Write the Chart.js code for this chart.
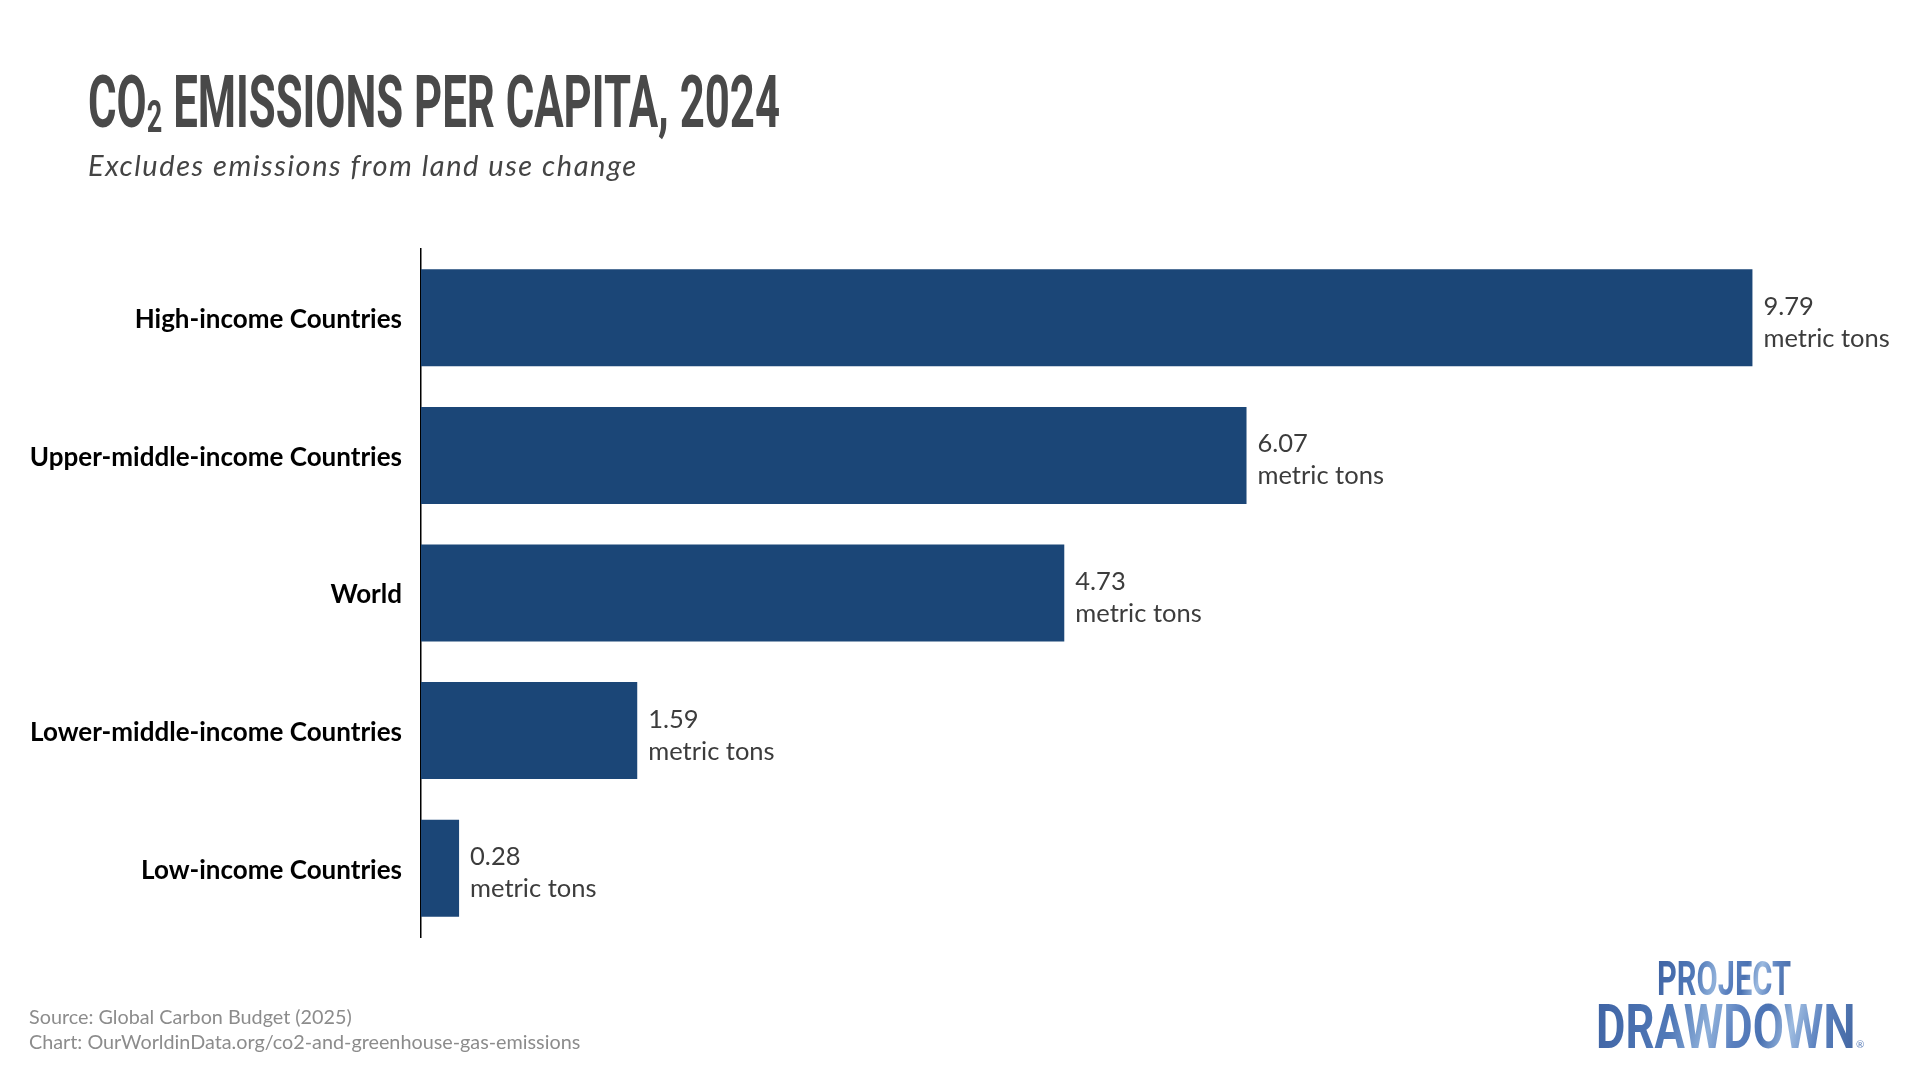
<!DOCTYPE html>
<html>
<head>
<meta charset="utf-8">
<script src="https://cdn.jsdelivr.net/npm/chart.js@4.4.1/dist/chart.umd.min.js"></script>
<style>
  html, body { margin: 0; padding: 0; background: #fff; }
  body { width: 1920px; height: 1080px; position: relative; overflow: hidden; }
  #chart { position: absolute; left: 0; top: 0; }
  .txt { position: absolute; white-space: nowrap; }
  #title {
    left: 88px; top: 66px;
    font-family: Roboto, sans-serif; font-weight: 700; font-size: 73px; line-height: 73px;
    color: #494949; transform-origin: left top;
  }
  #title sub { font-size: 0.62em; vertical-align: -0.12em; line-height: 0; }
  #subtitle {
    left: 88px; top: 150px;
    font-family: Lato, sans-serif; font-style: italic; font-size: 29px; line-height: 29px;
    letter-spacing: 1.55px; color: #444;
  }
  #source {
    left: 29px; top: 1004px;
    font-family: Lato, sans-serif; font-size: 19.8px; line-height: 25px; color: #8c8c8c;
  }
  .logo {
    font-family: Roboto, sans-serif; font-weight: 700; transform-origin: left top;
    background: linear-gradient(110deg, #3f63a3 0%, #5079b8 30%, #8fb0da 44%, #5a80bf 54%, #4a72b2 64%, #9dbbe0 74%, #5d83c0 84%, #40649f 100%);
    -webkit-background-clip: text; background-clip: text; color: transparent;
  }
  #logo1 { left: 1657px; top: 955px; font-size: 48px; line-height: 48px; }
  #logo2 { left: 1596px; top: 996px; font-size: 62px; line-height: 62px; }
  #reg { left: 1856px; top: 1038px; font-family: Lato, sans-serif; font-size: 10px; color: #5a7db8; }
</style>
</head>
<body>
<canvas id="chart" width="1920" height="1080"></canvas>
<div id="title" class="txt" data-w="692">CO<sub>2</sub> EMISSIONS PER CAPITA, 2024</div>
<div id="subtitle" class="txt">Excludes emissions from land use change</div>
<div id="source" class="txt">Source: Global Carbon Budget (2025)<br>Chart: OurWorldinData.org/co2-and-greenhouse-gas-emissions</div>
<div id="logo1" class="txt logo" data-w="134">PROJECT</div>
<div id="logo2" class="txt logo" data-w="259">DRAWDOWN</div>
<div id="reg" class="txt">®</div>
<script>
const categories = [
  "High-income Countries",
  "Upper-middle-income Countries",
  "World",
  "Lower-middle-income Countries",
  "Low-income Countries"
];
const emissions = [9.79, 6.07, 4.73, 1.59, 0.28];
const valueUnit = "metric tons";

// squeeze the condensed headings to their width in the picture
document.querySelectorAll("[data-w]").forEach((el) => {
  const target = Number(el.dataset.w);
  el.style.transform = `scaleX(${target / el.offsetWidth})`;
});

// value + unit written to the right of each bar
const valueLabels = {
  id: "valueLabels",
  afterDatasetsDraw(chart) {
    const ctx = chart.ctx;
    const meta = chart.getDatasetMeta(0);
    ctx.save();
    ctx.font = "25.5px Lato";
    ctx.fillStyle = "#3c3c3c";
    ctx.textAlign = "left";
    ctx.textBaseline = "alphabetic";
    meta.data.forEach((bar, i) => {
      ctx.fillText(emissions[i].toFixed(2), bar.x + 11, bar.y - 3);
      ctx.fillText(valueUnit, bar.x + 11, bar.y + 29);
    });
    ctx.restore();
  }
};

new Chart(document.getElementById("chart").getContext("2d"), {
  type: "bar",
  data: {
    labels: categories,
    datasets: [{
      data: emissions,
      backgroundColor: "#1b4677",
      barPercentage: 0.705,
      categoryPercentage: 1.0
    }]
  },
  options: {
    indexAxis: "y",
    responsive: false,
    animation: false,
    devicePixelRatio: 1,
    layout: { padding: { top: 249, bottom: 143, left: 0, right: 3 } },
    plugins: { legend: { display: false }, tooltip: { enabled: false } },
    scales: {
      x: { display: false, min: 0, max: 11 },
      y: {
        grid: { display: false, drawTicks: false },
        border: { display: true, color: "#000", width: 1.5 },
        ticks: {
          color: "#000",
          padding: 19,
          labelOffset: 2,
          font: { family: "Lato", weight: "bold", size: 26 }
        },
        afterFit(scale) { scale.width = 421; }
      }
    }
  },
  plugins: [valueLabels]
});
</script>
</body>
</html>
